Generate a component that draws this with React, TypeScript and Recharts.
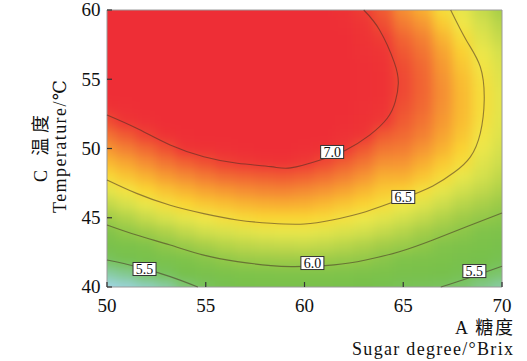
import { ComposedChart, Line, ReferenceArea, Scatter, XAxis, YAxis } from 'recharts';

// grid axes of the response surface
const sugarDegrees = [50, 51, 52, 53, 54, 55, 56, 57, 58, 59, 60, 61, 62, 63, 64, 65, 66, 67, 68, 69, 70];
const temperatures = [40, 41, 42, 43, 44, 45, 46, 47, 48, 49, 50, 51, 52, 53, 54, 55, 56, 57, 58, 59, 60];

// one row per sugar degree, values for temperatures 40..60
const scoresBySugar = [
  [5.08, 5.31, 5.51, 5.71, 5.91, 6.08, 6.23, 6.39, 6.53, 6.64, 6.74, 6.85, 6.96, 7.05, 7.1, 7.15, 7.18, 7.2, 7.22, 7.23, 7.24],
  [5.14, 5.36, 5.58, 5.79, 6.0, 6.16, 6.32, 6.48, 6.6, 6.7, 6.81, 6.92, 7.02, 7.08, 7.13, 7.17, 7.2, 7.22, 7.24, 7.25, 7.26],
  [5.22, 5.46, 5.67, 5.89, 6.08, 6.25, 6.42, 6.55, 6.66, 6.77, 6.88, 6.99, 7.07, 7.12, 7.16, 7.19, 7.22, 7.24, 7.25, 7.26, 7.27],
  [5.3, 5.53, 5.75, 5.98, 6.15, 6.33, 6.5, 6.61, 6.73, 6.84, 6.95, 7.05, 7.11, 7.16, 7.2, 7.23, 7.25, 7.27, 7.28, 7.29, 7.29],
  [5.42, 5.64, 5.85, 6.05, 6.23, 6.4, 6.55, 6.66, 6.78, 6.9, 7.02, 7.09, 7.15, 7.19, 7.23, 7.25, 7.27, 7.29, 7.3, 7.3, 7.3],
  [5.51, 5.73, 5.94, 6.12, 6.29, 6.46, 6.59, 6.71, 6.83, 6.95, 7.05, 7.12, 7.17, 7.21, 7.24, 7.27, 7.29, 7.3, 7.31, 7.31, 7.31],
  [5.57, 5.79, 6.0, 6.17, 6.33, 6.5, 6.62, 6.74, 6.87, 6.99, 7.07, 7.14, 7.19, 7.23, 7.26, 7.28, 7.3, 7.31, 7.32, 7.32, 7.32],
  [5.65, 5.85, 6.05, 6.21, 6.37, 6.53, 6.65, 6.77, 6.89, 7.01, 7.09, 7.15, 7.2, 7.24, 7.27, 7.29, 7.3, 7.31, 7.31, 7.31, 7.31],
  [5.68, 5.88, 6.07, 6.23, 6.4, 6.55, 6.67, 6.79, 6.91, 7.02, 7.1, 7.16, 7.21, 7.24, 7.27, 7.28, 7.29, 7.3, 7.3, 7.29, 7.28],
  [5.7, 5.9, 6.08, 6.24, 6.41, 6.55, 6.68, 6.8, 6.92, 7.03, 7.1, 7.16, 7.2, 7.23, 7.25, 7.26, 7.27, 7.27, 7.26, 7.25, 7.24],
  [5.7, 5.9, 6.08, 6.25, 6.41, 6.55, 6.67, 6.78, 6.9, 7.01, 7.08, 7.13, 7.17, 7.2, 7.22, 7.23, 7.23, 7.22, 7.21, 7.2, 7.18],
  [5.69, 5.89, 6.07, 6.23, 6.38, 6.53, 6.64, 6.75, 6.86, 6.97, 7.05, 7.1, 7.13, 7.15, 7.17, 7.18, 7.18, 7.17, 7.16, 7.14, 7.12],
  [5.66, 5.86, 6.04, 6.19, 6.34, 6.49, 6.6, 6.71, 6.81, 6.91, 7.01, 7.06, 7.09, 7.11, 7.12, 7.13, 7.13, 7.12, 7.1, 7.08, 7.05],
  [5.62, 5.82, 6.01, 6.15, 6.3, 6.44, 6.56, 6.65, 6.75, 6.84, 6.93, 7.02, 7.05, 7.07, 7.08, 7.08, 7.08, 7.06, 7.04, 7.02, 7.0],
  [5.58, 5.77, 5.95, 6.1, 6.24, 6.38, 6.51, 6.59, 6.67, 6.76, 6.84, 6.92, 7.01, 7.03, 7.05, 7.05, 7.04, 7.02, 7.0, 6.96, 6.92],
  [5.54, 5.72, 5.88, 6.05, 6.18, 6.31, 6.45, 6.57, 6.67, 6.75, 6.82, 6.88, 6.92, 6.95, 6.97, 6.97, 6.96, 6.93, 6.89, 6.83, 6.77],
  [5.52, 5.68, 5.83, 5.98, 6.11, 6.24, 6.37, 6.5, 6.6, 6.68, 6.75, 6.81, 6.85, 6.88, 6.89, 6.89, 6.88, 6.85, 6.81, 6.75, 6.68],
  [5.49, 5.63, 5.77, 5.91, 6.04, 6.16, 6.28, 6.4, 6.52, 6.59, 6.66, 6.71, 6.74, 6.76, 6.77, 6.76, 6.74, 6.71, 6.66, 6.59, 6.52],
  [5.44, 5.57, 5.7, 5.83, 5.97, 6.08, 6.19, 6.3, 6.41, 6.51, 6.56, 6.6, 6.63, 6.64, 6.64, 6.63, 6.6, 6.57, 6.52, 6.46, 6.41],
  [5.37, 5.5, 5.63, 5.76, 5.89, 6.02, 6.13, 6.23, 6.31, 6.37, 6.43, 6.47, 6.5, 6.51, 6.51, 6.5, 6.47, 6.43, 6.37, 6.31, 6.25],
  [5.31, 5.44, 5.57, 5.7, 5.83, 5.96, 6.06, 6.15, 6.22, 6.28, 6.32, 6.36, 6.38, 6.39, 6.39, 6.37, 6.35, 6.31, 6.25, 6.19, 6.12],
];

// contour lines, [sugar degree, temperature]
const contour70 = [
  [50, 52.42], [51.5, 51.46], [53.2, 50.25], [54.9, 49.4], [56.6, 48.93], [58.3, 48.69], [59.3, 48.6],
  [60.8, 49.17], [62.1, 49.9], [63.3, 50.97], [64.2, 52.2], [64.6, 53.4], [64.75, 54.7], [64.55, 56.2],
  [63.8, 58.56], [63.0, 60],
];
const contour65 = [
  [50, 47.73], [51.5, 46.76], [53.2, 45.9], [54.9, 45.3], [56.6, 44.84], [58.3, 44.6], [60, 44.55],
  [61.4, 44.84], [63.1, 45.44], [65, 46.4], [66.5, 47.3], [67.6, 48.3], [68.4, 49.4], [68.9, 51.1],
  [69.1, 53.5], [68.9, 55.9], [68.2, 57.8], [67.4, 60],
];
const contour60 = [
  [50, 44.48], [51.5, 43.75], [53.2, 43.03], [54.9, 42.3], [56.6, 41.83], [58.3, 41.54], [59.5, 41.47],
  [61.5, 41.6], [63.1, 41.95], [64.8, 42.55], [66.5, 43.4], [68.2, 44.35], [70, 45.35],
];
const contour55Left = [[50, 41.95], [51.5, 41.47], [53.2, 40.75], [54.6, 40]];
const contour55Right = [[66.9, 40], [68.2, 40.6], [70, 41.5]];

// contour level tags
const tagLevels = [7.0, 6.5, 6.0, 5.5, 5.5];
const tagSugar = [61.4, 65.0, 60.4, 51.9, 68.6];
const tagTemp = [49.75, 46.5, 41.73, 41.3, 41.15];

const xTicks = [50, 55, 60, 65, 70];
const yTicks = [40, 45, 50, 55, 60];

const SERIF = '"Liberation Serif", "Times New Roman", Tinos, "DejaVu Serif", serif';
const SERIF_CJK = '"Liberation Serif", "Times New Roman", Tinos, "DejaVu Serif", "Noto Sans CJK SC", serif';
const PLOT = { left: 107, top: 10, width: 395, height: 277 };
const CELL_W = PLOT.width / (sugarDegrees.length - 1);
const CELL_H = PLOT.height / (temperatures.length - 1);
const CONTOUR_STROKE = 'rgba(70,45,35,0.55)';

const colorStops: [number, string][] = [
  [5.05, '#a4d7ee'],
  [5.25, '#8dcfc0'],
  [5.45, '#7bc468'],
  [5.6, '#76c04b'],
  [5.9, '#80c34a'],
  [6.1, '#a2cc48'],
  [6.3, '#d2df4c'],
  [6.45, '#f0e84a'],
  [6.55, '#fad633'],
  [6.68, '#f8ad32'],
  [6.82, '#f37d33'],
  [6.95, '#ef5133'],
  [7.02, '#ee3535'],
  [7.1, '#ee2e36'],
];

const hexToRgb = (h: string) => [1, 3, 5].map((i) => parseInt(h.slice(i, i + 2), 16));

function scoreColor(v: number) {
  if (v <= colorStops[0][0]) return colorStops[0][1];
  for (let i = 1; i < colorStops.length; i++) {
    const [v1, c1] = colorStops[i];
    if (v <= v1) {
      const [v0, c0] = colorStops[i - 1];
      const t = (v - v0) / (v1 - v0);
      const a = hexToRgb(c0);
      const b = hexToRgb(c1);
      const m = a.map((x, k) => Math.round(x + (b[k] - x) * t));
      return `rgb(${m[0]},${m[1]},${m[2]})`;
    }
  }
  return colorStops[colorStops.length - 1][1];
}

const heatCells = sugarDegrees.flatMap((sugar, i) =>
  temperatures.map((temp, j) => ({ sugar, temp, score: scoresBySugar[i][j] }))
);

const toPoints = (pts: number[][]) => pts.map(([sugar, temp]) => ({ sugar, temp }));

const contours = [contour70, contour65, contour60, contour55Left, contour55Right].map(toPoints);

const tags = tagLevels.map((level, i) => ({ sugar: tagSugar[i], temp: tagTemp[i], level }));

const MARGIN = { top: 10, right: 25, bottom: 44, left: 67 };

function HeatCell(props: any) {
  const { cx, cy, payload } = props;
  let x0 = cx - CELL_W / 2 - 0.5;
  let x1 = cx + CELL_W / 2 + 0.5;
  let y0 = cy - CELL_H / 2 - 0.5;
  let y1 = cy + CELL_H / 2 + 0.5;
  // stretch the border cells so the softening does not fade at the frame
  if (payload.sugar === sugarDegrees[0]) x0 -= 16;
  if (payload.sugar === sugarDegrees[sugarDegrees.length - 1]) x1 += 16;
  if (payload.temp === temperatures[temperatures.length - 1]) y0 -= 16;
  if (payload.temp === temperatures[0]) y1 += 16;
  return <rect x={x0} y={y0} width={x1 - x0} height={y1 - y0} fill={scoreColor(payload.score)} />;
}

function LevelTag(props: any) {
  const { cx, cy, payload } = props;
  return (
    <g>
      <rect x={cx - 11.5} y={cy - 6.5} width={23} height={13} fill="#fff" stroke="#333" strokeWidth={1} />
      <text x={cx} y={cy + 5} textAnchor="middle" fontSize={14} fontFamily={SERIF} fill="#111">
        {payload.level.toFixed(1)}
      </text>
    </g>
  );
}

function XTick(props: any) {
  const { x, y, payload } = props;
  return (
    <g>
      <line x1={x} x2={x} y1={y} y2={y - 5} stroke="#333" strokeWidth={1.2} />
      <text x={x} y={y + 24.5} textAnchor="middle" fontSize={19} fontFamily={SERIF} fill="#111">
        {payload.value}
      </text>
    </g>
  );
}

function YTick(props: any) {
  const { x, y, payload } = props;
  return (
    <g>
      <line x1={x} x2={x + 5} y1={y} y2={y} stroke="#333" strokeWidth={1.2} />
      <text x={x - 6.5} y={y + 6.3} textAnchor="end" fontSize={19} fontFamily={SERIF} fill="#111">
        {payload.value}
      </text>
    </g>
  );
}

const xAxisProps = { dataKey: 'sugar', type: 'number' as const, domain: [50, 70], ticks: xTicks, interval: 0, height: 30 };
const yAxisProps = { dataKey: 'temp', type: 'number' as const, domain: [40, 60], ticks: yTicks, interval: 0, width: 40 };

export default function App() {
  return (
    <div style={{ position: 'absolute', left: 0, top: 0, width: 527, height: 361, background: '#fff' }}>
      <style>{`.heat-layer { filter: url(#heatSoften); clip-path: url(#plotClip); }`}</style>
      <svg width={0} height={0} style={{ position: 'absolute' }}>
        <defs>
          <clipPath id="plotClip">
            <rect x={PLOT.left} y={PLOT.top} width={PLOT.width} height={PLOT.height} />
          </clipPath>
          <filter id="heatSoften" x="-10%" y="-10%" width="120%" height="120%" colorInterpolationFilters="sRGB">
            <feGaussianBlur stdDeviation={5.5} />
          </filter>
        </defs>
      </svg>

      {/* colour field */}
      <div style={{ position: 'absolute', left: 0, top: 0 }}>
        <ComposedChart width={527} height={361} margin={MARGIN}>
          <XAxis {...xAxisProps} tick={false} tickLine={false} axisLine={false} tickSize={0} />
          <YAxis {...yAxisProps} tick={false} tickLine={false} axisLine={false} tickSize={0} />
          <Scatter className="heat-layer" data={heatCells} shape={HeatCell} isAnimationActive={false} />
        </ComposedChart>
      </div>

      {/* contours, tags, frame and axes */}
      <div style={{ position: 'absolute', left: 0, top: 0 }}>
        <ComposedChart width={527} height={361} margin={MARGIN}>
          <XAxis {...xAxisProps} tickSize={0} tickMargin={0} tickLine={false} axisLine={false} tick={XTick} />
          <YAxis {...yAxisProps} tickSize={0} tickMargin={0} tickLine={false} axisLine={false} tick={YTick} />
          {contours.map((pts, i) => (
            <Line
              key={i}
              data={pts}
              dataKey="temp"
              type="natural"
              dot={false}
              activeDot={false}
              stroke={CONTOUR_STROKE}
              strokeWidth={1.1}
              isAnimationActive={false}
            />
          ))}
          <Scatter data={tags} shape={LevelTag} isAnimationActive={false} />
          <ReferenceArea x1={50} x2={70} y1={40} y2={60} fill="none" stroke="#9a9a9a" strokeWidth={1} />
        </ComposedChart>
      </div>

      <svg width={527} height={361} style={{ position: 'absolute', left: 0, top: 0, pointerEvents: 'none' }}>
        <g fontFamily={SERIF_CJK} fill="#111" fontSize={18}>
          <text x={513} y={334} textAnchor="end" textLength={58} lengthAdjust="spacing">A 糖度</text>
          <text x={513} y={355} textAnchor="end" textLength={161} lengthAdjust="spacing">Sugar degree/°Brix</text>
          <text transform="translate(47,148.5) rotate(-90)" textAnchor="middle" textLength={67} lengthAdjust="spacing">C 温度</text>
          <text transform="translate(66,146.5) rotate(-90)" textAnchor="middle" textLength={133} lengthAdjust="spacing">Temperature/℃</text>
        </g>
      </svg>
    </div>
  );
}
